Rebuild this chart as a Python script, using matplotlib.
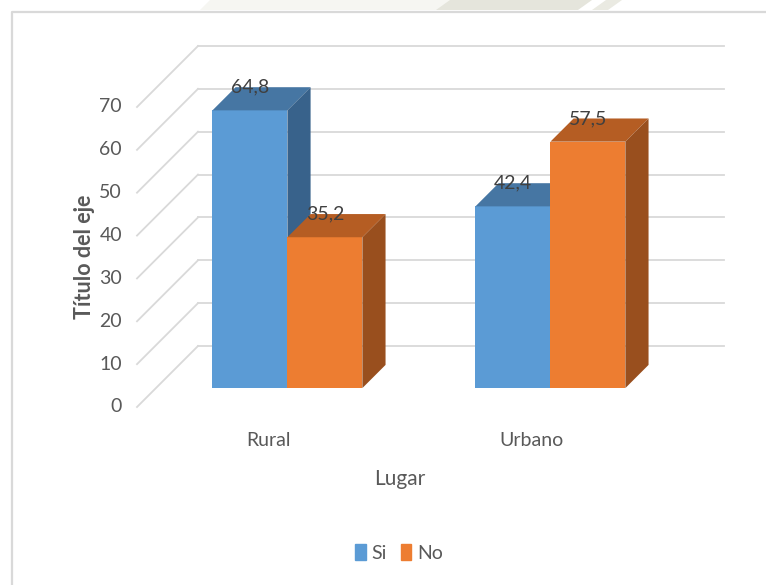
import matplotlib
matplotlib.use("Agg")
import matplotlib.pyplot as plt
from matplotlib.lines import Line2D
from matplotlib.patches import Patch, Polygon

# Data
lugares = ["Rural", "Urbano"]
si = [64.8, 42.4]
no = [35.2, 57.5]
yticks = [0, 10, 20, 30, 40, 50, 60, 70]

FONT = ["Lato", "DejaVu Sans"]
TXT = "#595959"
GRID = "#D9D9D9"

# face colours: front, top, side
SI_C = ("#5B9BD5", "#4676A3", "#38628B")
NO_C = ("#ED7D31", "#B55D23", "#994F1E")

W, H = 766, 585
fig = plt.figure(figsize=(W / 100, H / 100), dpi=100)

# faint page decoration above the chart frame
for pts, col in [
    ([(210, 0), (580, 0), (570, 10), (200, 10)], "#F6F6F2"),
    ([(450, 0), (592, 0), (578, 10), (436, 10)], "#E5E5DC"),
    ([(606, 0), (622, 0), (608, 10), (592, 10)], "#EAEAE2"),
]:
    fig.add_artist(Polygon([(x / W, 1 - y / H) for x, y in pts], closed=True,
                           transform=fig.transFigure, color=col, lw=0))

ax = fig.add_axes([0, 0, 1, 1])
ax.axis("off")

# pixel calibration of the oblique "3D" box
x0_px, floor_px = 137, 526      # front-left corner and floor width
y0_px, unit_px = 407, 300 / 70  # front baseline and px per value unit
depth_px = 61
ax.set_xlim(-x0_px / (floor_px / 2), (W - x0_px) / (floor_px / 2))
ax.set_ylim(-(H - y0_px) / unit_px, y0_px / unit_px)
DX = depth_px / (floor_px / 2)
DY = depth_px / unit_px
ncat = len(lugares)

# back wall + side wall gridlines
for v in yticks:
    ax.plot([DX, ncat + DX], [v + DY, v + DY], color=GRID, lw=1.3, zorder=1)
    ax.plot([0, DX], [v, v + DY], color=GRID, lw=1.3, zorder=1)
    ax.text(-0.057, v, str(v), ha="right", va="center", fontsize=14,
            color=TXT, family=FONT)

# bars as front / top / side faces
bw = 0.285
f0, f1 = 0.31, 0.69
a0, b0 = f0 * DX, f0 * DY
a1, b1 = f1 * DX, f1 * DY


def box(xl, v, cols):
    xr = xl + bw
    ax.fill([xl + a0, xr + a0, xr + a0, xl + a0], [b0, b0, v + b0, v + b0],
            color=cols[0], lw=0, zorder=3)
    ax.fill([xl + a0, xr + a0, xr + a1, xl + a1],
            [v + b0, v + b0, v + b1, v + b1], color=cols[1], lw=0, zorder=3)
    ax.fill([xr + a0, xr + a1, xr + a1, xr + a0], [b0, b1, v + b1, v + b0],
            color=cols[2], lw=0, zorder=3)
    ax.text(xl + bw / 2 + a0, v + b1, f"{v:.1f}".replace(".", ","),
            ha="center", va="center", fontsize=14, color="#404040",
            family=FONT, zorder=5)


for i, name in enumerate(lugares):
    c = i + 0.5
    box(c - bw, si[i], SI_C)
    box(c, no[i], NO_C)
    ax.text(c, -9.1, name, ha="center", va="baseline", fontsize=14,
            color=TXT, family=FONT)

ax.text(ncat / 2, -18.2, "Lugar", ha="center", va="baseline", fontsize=15,
        color=TXT, family=FONT)
ax.text(-0.2015, 35, "Título del eje", rotation=90, ha="center", va="center",
        fontsize=15.5, fontweight="bold", color=TXT, family=FONT)

handles = [Patch(color=SI_C[0], label="Si"), Patch(color=NO_C[0], label="No")]
fig.legend(handles=handles, loc="center", bbox_to_anchor=(399 / W, 1 - 553 / H),
           ncol=2, frameon=False, handlelength=0.55, handleheight=0.85,
           handletextpad=0.3, columnspacing=0.7,
           prop={"family": FONT, "size": 14}, labelcolor=TXT)

# chart area border
fig.add_artist(Line2D([12 / W, 12 / W, 1], [0, 1 - 11.5 / H, 1 - 11.5 / H],
                      transform=fig.transFigure, color=GRID, lw=1.6))

fig.savefig("out.png", dpi=100)
